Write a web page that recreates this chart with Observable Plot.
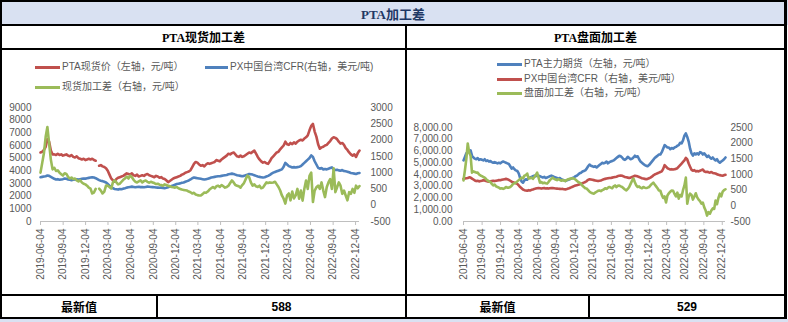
<!DOCTYPE html>
<html><head><meta charset="utf-8">
<script src="https://cdn.jsdelivr.net/npm/d3@7"></script>
<script src="https://cdn.jsdelivr.net/npm/@observablehq/plot@0.6"></script>
<style>
body{margin:0;background:#fff;}
#root{position:relative;width:788px;height:322px;overflow:hidden;background:#fff;font-family:"Liberation Sans",Arial,"Noto Sans CJK SC",sans-serif;}
.abs{position:absolute;}
.blk{position:absolute;background:#000;z-index:5;}
.cell{position:absolute;display:flex;align-items:center;justify-content:center;z-index:4;}
.lg{position:absolute;font-size:10px;color:#595959;white-space:nowrap;line-height:12px;font-family:"Liberation Sans",Arial,"Noto Sans CJK SC",sans-serif;z-index:3;}
.ll{position:absolute;height:3px;z-index:3;}
.svgbox{position:absolute;top:50px;height:244px;}
</style></head>
<body><div id="root"></div>
<script>
// ---------- data (weekly, from 2019-06-04) ----------
const startDate = "2019-06-04";
const tickLabels = ["2019-06-04","2019-09-04","2019-12-04","2020-03-04","2020-06-04","2020-09-04","2020-12-04","2021-03-04","2021-06-04","2021-09-04","2021-12-04","2022-03-04","2022-06-04","2022-09-04","2022-12-04"];
const leftTicksA = [0,1000,2000,3000,4000,5000,6000,7000,8000,9000];
const rightTicksA = [-500,0,500,1000,1500,2000,2500,3000];
const leftTicksB = [0,1000,2000,3000,4000,5000,6000,7000,8000];
const rightTicksB = [-500,0,500,1000,1500,2000,2500];
const latestA = "588", latestB = "529";

// PTA spot price (CNY/t)
const ptaSpot = [5450,5500,5650,5900,6500,6300,5600,5300,
5300,5250,5350,5250,5300,5200,5250,5300,5200,5150,5250,5100,5050,5150,5000,4950,4900,4950,4850,4900,4950,4900,4950,4850,4800,
null,
4400,4450,4350,4300,4200,4000,3700,3400,3250,3150,
3350,3450,3500,3550,3600,3700,3800,3750,3700,3800,3650,3600,3700,3550,3600,3650,3600,3700,3750,3650,3600,3550,3500,3600,3550,3450,3500,3400,3350,3250,3100,3200,3300,3400,3450,3500,3550,3600,3700,3750,3850,3900,3950,
4050,4300,4550,4700,4650,4500,4400,4450,4350,4500,4600,4550,4600,4650,4700,4850,4800,4750,4900,5000,
5100,5200,5350,5300,5400,5450,5300,5150,5100,5200,5100,5150,5250,5350,5450,5400,5500,5600,5350,5100,
4900,4750,4650,4700,4600,4550,4750,5000,5150,5300,5450,5500,5700,5850,6000,6300,6100,6050,6200,6100,
6250,6150,6300,6400,6450,6400,6550,6650,6800,7200,7550,7700,7100,6700,6100,5750,5850,5900,6000,6050,
6200,6350,6550,6650,6600,6500,6300,6150,6200,6050,5800,5650,5450,5300,5200,5300,5100,5400,5600];

// PX CFR Taiwan (USD/t)
const pxCfr = [860,870,880,890,910,900,870,840,
810,790,800,780,790, 800,820,810,790,780, 770,780,790,800,790, 800,810,820,815, 830,840,850,860,850,
830,800,770,750, 740,720,700,650, 600,560,520,500, 490,480,500,490, 510,520,540,550,560,
570,560,550,560, 565,555,560,550, 560,570,565,560,555, 550,545,540,535, 540,530,525,535,
550,570,590,610, 630,650,660,670,690, 700,720,740,760, 790,830,850,840, 830,820,810,800,790,
800,810,830,850, 860,870,880,890, 890,900,910,920, 930,950,960,970,960, 940,920,910,900,
890,900,920,940, 960,950,940,920,900, 880,870,860,850, 860,880,900,930,970,
1000,1020,1040,1060, 1080,1100,1180,1300, 1250,1200,1180,1160,1170, 1160,1170,1180,1200,
1250,1300,1350,1400, 1450,1530,1480,1350,1250, 1150,1120,1140,1100, 1110,1100,1120,1140,1160,
1100,1080,1090,1070, 1060,1080,1050,1040, 1030,1010,990,980, 970,960,980,990];

// spot processing spread (CNY/t)
const spotSpread = [1000,1300,1600,2100,2400,1900,1400,1100,
1150,1050,1070,1000,950, 910,980,960,870,820, 850,800,820,760,730, 760,700,660,640,600, 540,510,360,390,500,
null,
510,450,360,420,600, 600,560,510,700,760, 700,640,660,720, 780,820,880,820,910, 860,780,720,700,
730,760,700,740, 760,720,690,720,700, 680,650,660,630,620, 600,640,620,600,580, 560,550,540,560,520,
500,480,470,460,450, 420,400,360,380,330, 310,300,300,340,390, 380,420,480,520, 560,520,580,600,
560,620,580,540, 560,600,680,760,700, 620,600,580,540, 620,680,800,910, 860,700,600,640,580,
560,600,520,540, 620,700,680,700,690, 700,720,640,560, 450,300,200,50, 300,360,150,420,210,
300,500,200,450, 140,500,760,
500,900,1000,100,450, 550,600,500,700,450, 250,550,700,800,500, 1130,400,550,700,600,
350,450,300,150,400, 350,500,380,600,520, 588];

// PTA main futures (CNY/t)
const ptaFut = [5200,5500,5800,5900,6000,6050,5600,5450,
5350,5300,5400,5250,5300, 5250,5200,5300,5150,5200, 5100,5150,5050,5000,5050, 5000,4950,5000,4950,5050, 5100,5050,5000,4950,4900,
4700,4500,4600,4450,4350,4300, 4100,3700,3400,3300,3500, 3600,3550,3700,3750, 3800,3850,3900,3850,3950,
3900,3850,3800,3750, 3800,3700,3750,3800, 3850,3900,3850,3800,3750, 3700,3650,3700,3600,3550,
3500,3450,3500,3550,3600, 3650,3700,3750,3850,3900, 4000,4100,4150,4250,4300, 4350,4500,4700,4850,4750,
4700,4650,4700,4600,4700, 4800,4900,5000,4950, 5000,5100,4950,5050, 5100,5150,5200,5300,
5400,5500,5600,5550,5450, 5300,5250,5350,5500, 5400,5300,5350,5450, 5600,5500,5550,5300,5100,
5000,4900,4800,4750, 4700,4800,4950,5100,5250, 5400,5500,5600,5700, 5700,5900,6200,6500,
6400,6300,6300,6150,6250, 6200,6300,6350,6450, 6500,6700,6650,6900, 7300,7500,7200,6800,6200,
5800,5600,5800,5700, 5800,5700,5900,5850,5700, 5800,5650,5500,5600, 5450,5350,5450,5300,
5200,5300,5100,5000, 5100,5200,5300,5450];

// futures processing spread (CNY/t)
const futSpread = [810,1130,1500,1990,1700,1600,1060,1100,
1080,1060,1060,1000,970, 950,920,900,850,810, 780,760,700,650,680, 620,600,580,550,560, 540,560,600,580,580,
600,640,700,720,740,780, 820,860,900,880,960, 980,1030,870,880, 900,860,920,980,1060,
900,740,760,720, 740,720,710,760, 820,860,900,860,840, 820,850,830,800,820,
810,790,830,850,860, 870,880,870,840,800, 760,740,700,640,600, 560,550,500,450,420,
400,390,420,450,480, 490,470,500,520, 560,540,580,600, 580,560,620,650,
600,640,650,620,600, 560,520,490,540, 600,700,800,870, 750,650,600,620,580,
560,600,580,570, 580,600,650,700,740, 680,620,560,490, 480,350,250,300,
110,330,400,450,490, 480,380,300,420, 230,350,300,500, 650,900,70,300,390,
350,200,300,400, 270,200,150,70,100, -50,-150,-310,-200, -250,-150,-80,-100,
170,50,250,390, 300,450,500,529];

// ---------- layout ----------
const RED = "#C0504D", BLUE = "#4F81BD", GREEN = "#9BBB59";
const root = document.getElementById("root");
function el(cls, css, html){const d=document.createElement("div");d.className=cls;Object.assign(d.style,css);if(html!=null)d.innerHTML=html;root.appendChild(d);return d;}

// backgrounds
el("abs",{left:"0px",top:"0px",width:"788px",height:"25px",background:"#D9E1F2"});
el("abs",{left:"0px",top:"319px",width:"788px",height:"3px",background:"#D9E1F2"});
// borders
el("blk",{left:"0px",top:"0px",width:"787px",height:"2px"});
el("blk",{left:"0px",top:"0px",width:"2px",height:"319px"});
el("blk",{left:"784px",top:"0px",width:"3px",height:"319px"});
el("blk",{left:"0px",top:"24px",width:"787px",height:"2px"});
el("blk",{left:"0px",top:"48px",width:"787px",height:"2px"});
el("blk",{left:"0px",top:"294px",width:"787px",height:"2px"});
el("blk",{left:"0px",top:"317px",width:"787px",height:"2px"});
el("blk",{left:"405px",top:"26px",width:"2px",height:"292px"});
el("blk",{left:"156px",top:"296px",width:"2px",height:"22px"});
el("blk",{left:"588px",top:"296px",width:"2px",height:"22px"});

const titleFont = '"Liberation Serif","Noto Sans CJK SC",serif';
el("cell",{left:"2px",top:"2px",width:"782px",height:"22px",fontFamily:titleFont,fontWeight:"bold",fontSize:"13px",color:"#1F3864"},"PTA加工差");
el("cell",{left:"2px",top:"26px",width:"403px",height:"22px",fontFamily:titleFont,fontWeight:"bold",fontSize:"12px",color:"#000"},"PTA现货加工差");
el("cell",{left:"407px",top:"26px",width:"377px",height:"22px",fontFamily:titleFont,fontWeight:"bold",fontSize:"12px",color:"#000"},"PTA盘面加工差");
el("cell",{left:"2px",top:"296px",width:"154px",height:"21px",fontFamily:titleFont,fontWeight:"bold",fontSize:"12px"},"最新值");
el("cell",{left:"158px",top:"296px",width:"247px",height:"21px",fontFamily:'"Liberation Sans Narrow","Liberation Sans",sans-serif',fontWeight:"bold",fontSize:"12px"},latestA);
el("cell",{left:"407px",top:"296px",width:"181px",height:"21px",fontFamily:titleFont,fontWeight:"bold",fontSize:"12px"},"最新值");
el("cell",{left:"590px",top:"296px",width:"194px",height:"21px",fontFamily:'"Liberation Sans Narrow","Liberation Sans",sans-serif',fontWeight:"bold",fontSize:"12px"},latestB);

// legends
function legend(x, y, w, color, text){
  el("ll",{left:x+"px",top:(y-1.5)+"px",width:w+"px",background:color});
  el("lg",{left:(x+w+2)+"px",top:(y-6.5)+"px"},text);
}
legend(35,67,25,RED,"PTA现货价（左轴，元/吨）");
legend(205,67,23,BLUE,"PX中国台湾CFR(右轴，美元/吨)");
legend(35,87,25,GREEN,"现货加工差（右轴，元/吨）");
legend(497,64,25,BLUE,"PTA主力期货（左轴，元/吨）");
legend(497,79,25,RED,"PX中国台湾CFR（右轴，美元/吨）");
legend(497,93,25,GREEN,"盘面加工差（右轴，元/吨）");

// ---------- charts ----------
const t0 = Date.parse(startDate + "T00:00:00Z");
const dates = ptaSpot.map((_, i) => new Date(t0 + i * 7 * 864e5));
const tickDates = tickLabels.map(s => new Date(s + "T00:00:00Z"));
const fmt = d3.utcFormat("%Y-%m-%d");
const num = v => v == null ? NaN : v;
const svgStyle = {fontFamily:'"Liberation Sans",Arial,sans-serif',fontSize:"10px",color:"#595959",background:"transparent",overflow:"visible"};

function chart(o){
  const rows = dates.map((d,i)=>({d, a: num(o.primary[i]), b: o.map(o.secondary1[i]), c: o.map(o.secondary2[i])}));
  return Plot.plot({
    width:o.width, height:244,
    marginLeft:o.ml, marginRight:o.mr, marginTop:o.mt, marginBottom:73,
    x:{type:"utc", domain:[dates[0], dates[dates.length-1]]},
    y:{domain:o.yDomain},
    style:svgStyle,
    marks:[
      Plot.ruleY([0],{stroke:"#bfbfbf", strokeWidth:1}),
      Plot.axisX({ticks:tickDates, tickFormat:fmt, tickRotate:-90, tickSize:4, tickPadding:3, stroke:"#bfbfbf", fill:"#595959", label:null}),
      Plot.axisY({ticks:o.leftTicks, tickFormat:o.leftFmt, tickSize:0, tickPadding:o.lp, fill:"#595959", label:null}),
      Plot.axisY({anchor:"right", ticks:o.rightTicks.map(o.map), tickFormat:o.unmap, tickSize:0, tickPadding:o.rp, fill:"#595959", label:null}),
      Plot.lineY(rows,{x:"d", y:"a", stroke:o.colors[0], strokeWidth:2.6, strokeLinejoin:"round"}),
      Plot.lineY(rows,{x:"d", y:"b", stroke:o.colors[1], strokeWidth:2.6, strokeLinejoin:"round"}),
      Plot.lineY(rows,{x:"d", y:"c", stroke:o.colors[2], strokeWidth:2.6, strokeLinejoin:"round"})
    ]
  });
}

const mapA = v => v == null ? NaN : (v + 500) * 9000 / 3500;
const unmapA = v => String(Math.round(v * 3500 / 9000 - 500));
const svgA = chart({width:405, ml:40, mr:46, mt:57, lp:9, rp:11, yDomain:[0,9000],
  leftTicks:leftTicksA, leftFmt:d=>String(d), rightTicks:rightTicksA, map:mapA, unmap:unmapA,
  primary:ptaSpot, secondary1:pxCfr, secondary2:spotSpread, colors:[RED,BLUE,GREEN]});
const boxA = el("svgbox",{left:"0px",width:"405px"}); boxA.appendChild(svgA);

const mapB = v => v == null ? NaN : (v + 500) * 8000 / 3000;
const unmapB = v => String(Math.round(v * 3000 / 8000 - 500));
const svgB = chart({width:377, ml:56, mr:59, mt:77, lp:11, rp:5, yDomain:[0,8000],
  leftTicks:leftTicksB, leftFmt:d3.format(",.2f"), rightTicks:rightTicksB, map:mapB, unmap:unmapB,
  primary:ptaFut, secondary1:pxCfr, secondary2:futSpread, colors:[BLUE,RED,GREEN]});
const boxB = el("svgbox",{left:"407px",width:"377px"}); boxB.appendChild(svgB);
</script>
</body></html>
